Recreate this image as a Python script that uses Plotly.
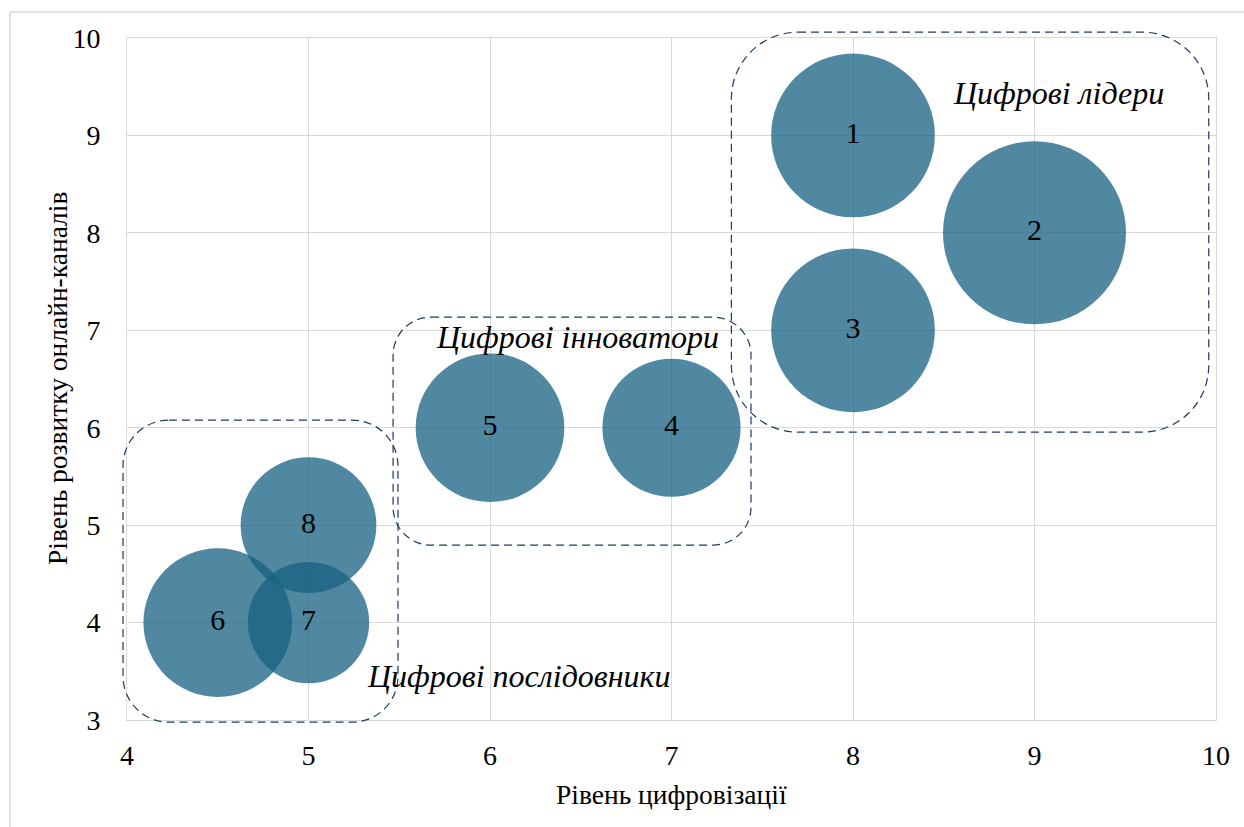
import plotly.graph_objects as go

# Company positions: digitalisation level (x), online channel development (y), bubble size
ids = ["1", "2", "3", "4", "5", "6", "7", "8"]
digitalization = [8, 9, 8, 7, 6, 4.5, 5, 5]
online_channels = [9, 8, 7, 6, 6, 4, 4, 5]
bubble_size = [8, 10, 8, 5.7, 6.6, 6.6, 4.4, 5.5]

x_ticks = [4, 5, 6, 7, 8, 9, 10]
y_ticks = [3, 4, 5, 6, 7, 8, 9, 10]

# Cluster frames (data coordinates) and their captions
groups = [
    {"name": "Цифрові лідери", "x": (7.33, 9.96), "y": (5.955, 10.06), "label": (9.13, 9.44)},
    {"name": "Цифрові інноватори", "x": (5.466, 7.438), "y": (4.795, 7.135), "label": (6.48, 6.93)},
    {"name": "Цифрові послідовники", "x": (3.978, 5.493), "y": (2.978, 6.078), "label": (6.16, 3.45)},
]

W, H = 1244, 827
M = dict(l=127, r=28, t=38, b=107)
PW = W - M["l"] - M["r"]
PH = H - M["t"] - M["b"]
XR = (4, 10)
YR = (3, 10)
FONT = "Liberation Serif"


def to_px(x):
    return (x - XR[0]) / (XR[1] - XR[0])


def to_py(y):
    return (y - YR[0]) / (YR[1] - YR[0])


def rounded_rect(x0, x1, y0, y1, r_px):
    """Rounded rectangle path in paper coordinates with circular corners of r_px pixels."""
    px0, px1, py0, py1 = to_px(x0), to_px(x1), to_py(y0), to_py(y1)
    rx, ry = r_px / PW, r_px / PH
    k = 0.5523
    p = []
    p.append(f"M {px0 + rx},{py1}")
    p.append(f"L {px1 - rx},{py1}")
    p.append(f"C {px1 - rx + k * rx},{py1} {px1},{py1 - ry + k * ry} {px1},{py1 - ry}")
    p.append(f"L {px1},{py0 + ry}")
    p.append(f"C {px1},{py0 + ry - k * ry} {px1 - rx + k * rx},{py0} {px1 - rx},{py0}")
    p.append(f"L {px0 + rx},{py0}")
    p.append(f"C {px0 + rx - k * rx},{py0} {px0},{py0 + ry - k * ry} {px0},{py0 + ry}")
    p.append(f"L {px0},{py1 - ry}")
    p.append(f"C {px0},{py1 - ry + k * ry} {px0 + rx - k * rx},{py1} {px0 + rx},{py1}")
    p.append("Z")
    return " ".join(p)


fig = go.Figure()
fig.add_trace(go.Scatter(
    x=digitalization,
    y=online_channels,
    mode="markers+text",
    text=ids,
    textposition="middle center",
    textfont=dict(family=FONT, size=30, color="#000000"),
    marker=dict(
        size=bubble_size,
        sizemode="area",
        sizeref=2 * 10 / 183 ** 2,
        color="rgb(24,98,130)",
        opacity=0.76,
        line=dict(width=0),
    ),
    hoverinfo="skip",
    showlegend=False,
))

shapes = []
annotations = []
for g in groups:
    w_px = (g["x"][1] - g["x"][0]) / (XR[1] - XR[0]) * PW
    h_px = (g["y"][1] - g["y"][0]) / (YR[1] - YR[0]) * PH
    r = 0.1667 * min(w_px, h_px)
    shapes.append(dict(
        type="path", xref="paper", yref="paper",
        path=rounded_rect(g["x"][0], g["x"][1], g["y"][0], g["y"][1], r),
        line=dict(color="#1F3864", width=1.2, dash="8px,5px"),
        fillcolor="rgba(0,0,0,0)", layer="above",
    ))
    annotations.append(dict(
        x=g["label"][0], y=g["label"][1], xref="x", yref="y",
        text=f"<i>{g['name']}</i>", showarrow=False,
        font=dict(family=FONT, size=32, color="#000000"),
        xanchor="center", yanchor="middle",
    ))

# Outer chart frame
shapes.append(dict(
    type="rect", xref="paper", yref="paper",
    x0=(10 - M["l"]) / PW, x1=(W + 10 - M["l"]) / PW,
    y0=-(H + 10 - PH - M["t"]) / PH, y1=(PH + M["t"] - 12) / PH,
    line=dict(color="#D9D9D9", width=1.5), fillcolor="rgba(0,0,0,0)", layer="below",
))

# Axis titles
annotations.append(dict(
    x=0.5, y=-(795 - M["t"] - PH) / PH, xref="paper", yref="paper",
    text="Рівень цифровізації", showarrow=False,
    font=dict(family=FONT, size=27.5, color="#000000"),
    xanchor="center", yanchor="middle",
))
annotations.append(dict(
    x=(57 - M["l"]) / PW, y=0.5, xref="paper", yref="paper",
    text="Рівень розвитку онлайн-каналів", showarrow=False, textangle=-90,
    font=dict(family=FONT, size=27.5, color="#000000"),
    xanchor="center", yanchor="middle",
))

axis_common = dict(
    showgrid=True, gridcolor="#D9D9D9", gridwidth=1,
    showline=True, linecolor="#D9D9D9", linewidth=1, mirror=True,
    zeroline=False, ticks="",
    tickfont=dict(family=FONT, size=28, color="#000000"),
    fixedrange=True,
)

fig.update_layout(
    width=W, height=H,
    margin=M,
    paper_bgcolor="white", plot_bgcolor="white",
    xaxis=dict(range=list(XR), tickvals=x_ticks, ticklabelstandoff=10, **axis_common),
    yaxis=dict(range=list(YR), tickvals=y_ticks, ticklabelstandoff=20, **axis_common),
    shapes=shapes,
    annotations=annotations,
    showlegend=False,
)

fig.write_html("out.html", config={"displayModeBar": False})
